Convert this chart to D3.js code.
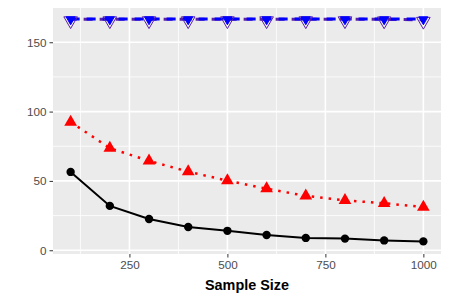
<!DOCTYPE html>
<html>
<head>
<meta charset="utf-8">
<script src="https://cdn.jsdelivr.net/npm/d3@7"></script>
<style>
  html, body { margin: 0; padding: 0; background: #fff; }
  svg { display: block; font-family: "Liberation Sans", Arial, sans-serif; }
</style>
</head>
<body>
<div id="chart"></div>
<script>
// ── data ──────────────────────────────────────────────────────────────────
const sampleSizes = [100, 200, 300, 400, 500, 600, 700, 800, 900, 1000];
const blackVals   = [56.5, 32, 22.5, 16.8, 14, 11, 8.9, 8.4, 7.1, 6.4];
const redVals     = [92.5, 73.6, 64.5, 56.7, 50.2, 44.4, 39.2, 36, 33.9, 31.2];
const purpleVals  = [166.6, 166.6, 166.6, 166.6, 166.6, 166.6, 166.6, 166.6, 166.5, 166.2];
const blueVals    = [166.8, 166.8, 166.8, 166.8, 166.8, 166.8, 166.8, 166.8, 166.8, 166.8];
const xTicks      = [250, 500, 750, 1000];
const xMinor      = [125, 375, 625, 875];
const yTicks      = [0, 50, 100, 150];
const yMinor      = [25, 75, 125];

const W = 450, H = 300;
const panel = { left: 53, right: 441, top: 8, bottom: 254 };

const x = d3.scaleLinear().domain([55, 1045]).range([panel.left, panel.right]);
const y = d3.scaleLinear().domain([-2.7, 174.7]).range([panel.bottom, panel.top]);

const svg = d3.select('#chart').append('svg')
  .attr('width', W).attr('height', H);

// fond du panneau
svg.append('rect')
  .attr('x', panel.left).attr('y', panel.top)
  .attr('width', panel.right - panel.left)
  .attr('height', panel.bottom - panel.top)
  .attr('fill', '#EBEBEB');

// grille
const grid = svg.append('g');
grid.selectAll('line.ymin').data(yMinor).join('line')
  .attr('x1', panel.left).attr('x2', panel.right)
  .attr('y1', d => y(d)).attr('y2', d => y(d))
  .attr('stroke', '#fff').attr('stroke-width', 0.8);
grid.selectAll('line.xmin').data(xMinor).join('line')
  .attr('y1', panel.top).attr('y2', panel.bottom)
  .attr('x1', d => x(d)).attr('x2', d => x(d))
  .attr('stroke', '#fff').attr('stroke-width', 0.8);
grid.selectAll('line.ymaj').data(yTicks).join('line')
  .attr('x1', panel.left).attr('x2', panel.right)
  .attr('y1', d => y(d)).attr('y2', d => y(d))
  .attr('stroke', '#fff').attr('stroke-width', 1.6);
grid.selectAll('line.xmaj').data(xTicks).join('line')
  .attr('y1', panel.top).attr('y2', panel.bottom)
  .attr('x1', d => x(d)).attr('x2', d => x(d))
  .attr('stroke', '#fff').attr('stroke-width', 1.6);

// axes
const xAxis = svg.append('g')
  .attr('transform', `translate(0,${panel.bottom})`)
  .call(d3.axisBottom(x).tickValues(xTicks).tickFormat(d3.format('d')).tickSize(3.5).tickPadding(3));
const yAxis = svg.append('g')
  .attr('transform', `translate(${panel.left},0)`)
  .call(d3.axisLeft(y).tickValues(yTicks).tickFormat(d3.format('d')).tickSize(3.5).tickPadding(3));
for (const ax of [xAxis, yAxis]) {
  ax.select('.domain').remove();
  ax.selectAll('line').attr('stroke', '#333').attr('stroke-width', 1);
  ax.selectAll('text').attr('fill', '#4D4D4D')
    .style('font-size', '11.7px')
    .style('font-family', '"Liberation Sans", Arial, sans-serif');
}

svg.append('text')
  .attr('x', (panel.left + panel.right) / 2)
  .attr('y', 290)
  .attr('text-anchor', 'middle')
  .style('font-size', '14.4px').style('font-weight', 'bold')
  .attr('fill', '#000')
  .text('Sample Size');

// ── séries ────────────────────────────────────────────────────────────────
const line = d3.line().x(d => x(d[0])).y(d => y(d[1]));
const pts = vals => sampleSizes.map((s, i) => [s, vals[i]]);

const series = [
  { vals: purpleVals, color: '#5B21A6', width: 3, dash: '9,7', offset: 3 },
  { vals: blueVals,   color: '#0000FF', width: 3, dash: '9,7', offset: 0 },
  { vals: redVals,    color: '#FF0000', width: 2.5, dash: '2.5,6', offset: 0 },
  { vals: blackVals,  color: '#000000', width: 2, dash: null, offset: 0 },
];
for (const s of series) {
  svg.append('path')
    .datum(pts(s.vals))
    .attr('d', line)
    .attr('fill', 'none')
    .attr('stroke', s.color)
    .attr('stroke-width', s.width)
    .attr('stroke-dasharray', s.dash)
    .attr('stroke-dashoffset', s.offset);
}

// marqueurs
const triUp = d3.symbol().type(d3.symbolTriangle).size(70);
const triDown = size => d3.symbol().type(d3.symbolTriangle).size(size);

svg.append('g').selectAll('path').data(pts(purpleVals)).join('path')
  .attr('d', triDown(80))
  .attr('transform', d => `translate(${x(d[0])},${y(d[1]) + 1.5}) rotate(180)`)
  .attr('fill', 'none').attr('stroke', '#5B21A6').attr('stroke-width', 1);

svg.append('g').selectAll('path').data(pts(blueVals)).join('path')
  .attr('d', triDown(36))
  .attr('transform', d => `translate(${x(d[0])},${y(d[1]) + 0.5}) rotate(180)`)
  .attr('fill', '#0000FF').attr('stroke', '#0000FF').attr('stroke-width', 1);

svg.append('g').selectAll('path').data(pts(redVals)).join('path')
  .attr('d', triUp)
  .attr('transform', d => `translate(${x(d[0])},${y(d[1])})`)
  .attr('fill', '#FF0000');

svg.append('g').selectAll('circle').data(pts(blackVals)).join('circle')
  .attr('cx', d => x(d[0])).attr('cy', d => y(d[1]))
  .attr('r', 4.2)
  .attr('fill', '#000');
</script>
</body>
</html>
